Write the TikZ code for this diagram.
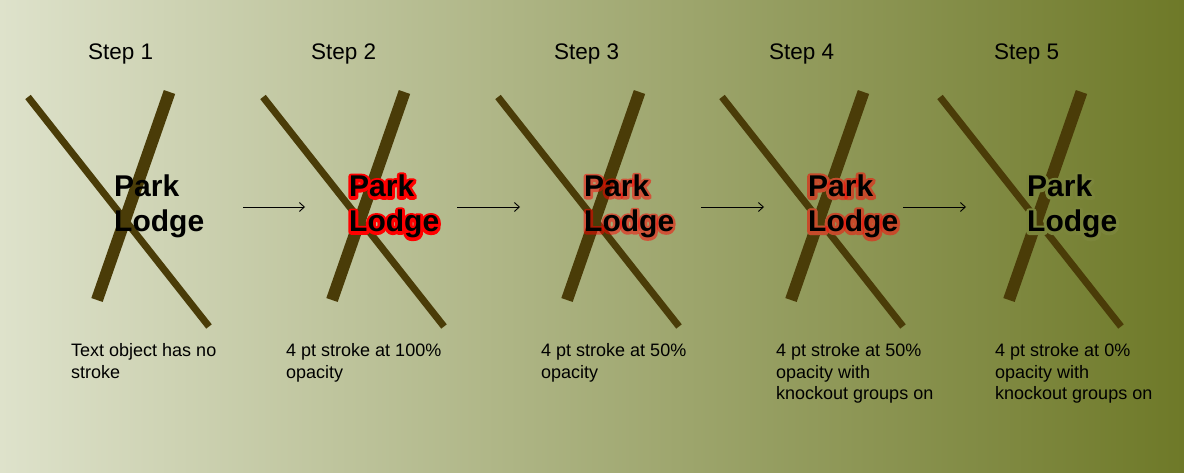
\documentclass[tikz,border=0pt]{standalone}
\usepackage{fontspec}
\setmainfont{Liberation Sans}
\usetikzlibrary{arrows.meta}
\definecolor{bgL}{RGB}{222,226,203}
\definecolor{bgR}{RGB}{110,121,40}
\definecolor{barc}{RGB}{74,60,8}
\definecolor{halofour}{RGB}{142,151,87}
\definecolor{halofive}{RGB}{123,133,59}
\newcommand\strokeon[1]{\special{pdf:literal direct 1 Tr #1 w 1 j}}
\newcommand\strokeoff{\special{pdf:literal direct 0 Tr}}
\tikzset{
  word/.style={inner sep=0pt, anchor=base west, font=\fontsize{30}{35}\selectfont\bfseries},
  steplabel/.style={inner sep=0pt, anchor=base west, font=\fontsize{22.5}{26}\selectfont},
  desc/.style={inner sep=0pt, anchor=north west, align=left, font=\fontsize{18}{21.5}\selectfont},
  thinbar/.style={draw=barc, line width=7pt},
  thickbar/.style={draw=barc, line width=12pt},
  flow/.style={-{Straight Barb[length=5pt,width=9pt]}, line width=0.9pt},
}
\begin{document}
\begin{tikzpicture}[x=1pt,y=-1pt]
\useasboundingbox (0,0) rectangle (1184,473);
\shade[left color=bgL, right color=bgR] (0,0) rectangle (1184,473);

% crossed bars
\foreach \dx in {0,235,470,694,912}{
  \draw[thinbar] (28+\dx,97) -- (209+\dx,326.5);
  \draw[thickbar] (169.5+\dx,92) -- (97+\dx,300);
}

% step labels
\node[steplabel] (s1) at (88,60) {Step 1};
\node[steplabel] (s2) at (311,60) {Step 2};
\node[steplabel] (s3) at (554,60) {Step 3};
\node[steplabel] (s4) at (769,60) {Step 4};
\node[steplabel] (s5) at (994,60) {Step 5};

% step 1: no stroke
\node[word] (p1) at (114,197) {Park};
\node[word] (l1) at (114,232) {Lodge};

% step 2: 100% red stroke
\node[word, text=red] (p2r) at (349,197) {\strokeon{5.6}Park\strokeoff};
\node[word, text=red] (l2r) at (349,232) {\strokeon{5.6}Lodge\strokeoff};
\node[word] (p2) at (349,197) {Park};
\node[word] (l2) at (349,232) {Lodge};

% step 3: 50% stroke
\begin{scope}[draw opacity=0.5]
  \node[word, text=red] (p3r) at (584,197) {\strokeon{5}Park\strokeoff};
  \node[word, text=red] (l3r) at (584,232) {\strokeon{5}Lodge\strokeoff};
\end{scope}
\node[word] (p3) at (584,197) {Park};
\node[word] (l3) at (584,232) {Lodge};

% step 4: 50% stroke, knockout groups on
\node[word, text=halofour] (p4h) at (808,197) {\strokeon{6}Park\strokeoff};
\node[word, text=halofour] (l4h) at (808,232) {\strokeon{6}Lodge\strokeoff};
\begin{scope}[draw opacity=0.5]
  \node[word, text=red] (p4r) at (808,197) {\strokeon{6}Park\strokeoff};
  \node[word, text=red] (l4r) at (808,232) {\strokeon{6}Lodge\strokeoff};
\end{scope}
\node[word] (p4) at (808,197) {Park};
\node[word] (l4) at (808,232) {Lodge};

% step 5: 0% stroke, knockout groups on
\node[word, text=halofive] (p5h) at (1027,197) {\strokeon{6}Park\strokeoff};
\node[word, text=halofive] (l5h) at (1027,232) {\strokeon{6}Lodge\strokeoff};
\node[word] (p5) at (1027,197) {Park};
\node[word] (l5) at (1027,232) {Lodge};

% arrows
\coordinate (a1s) at (243,207); \coordinate (a1e) at (305,207);
\coordinate (a2s) at (457,207); \coordinate (a2e) at (520,207);
\coordinate (a3s) at (701,207); \coordinate (a3e) at (764,207);
\coordinate (a4s) at (903,207); \coordinate (a4e) at (966,207);
\draw[flow] (a1s) -- (a1e);
\draw[flow] (a2s) -- (a2e);
\draw[flow] (a3s) -- (a3e);
\draw[flow] (a4s) -- (a4e);

% descriptions
\node[desc] (d1) at (71,343.5) {Text object has no\\stroke};
\node[desc] (d2) at (286,343.5) {4 pt stroke at 100\%\\opacity};
\node[desc] (d3) at (541,343.5) {4 pt stroke at 50\%\\opacity};
\node[desc] (d4) at (776,343.5) {4 pt stroke at 50\%\\opacity with\\knockout groups on};
\node[desc] (d5) at (995,343.5) {4 pt stroke at 0\%\\opacity with\\knockout groups on};
\end{tikzpicture}
\end{document}
